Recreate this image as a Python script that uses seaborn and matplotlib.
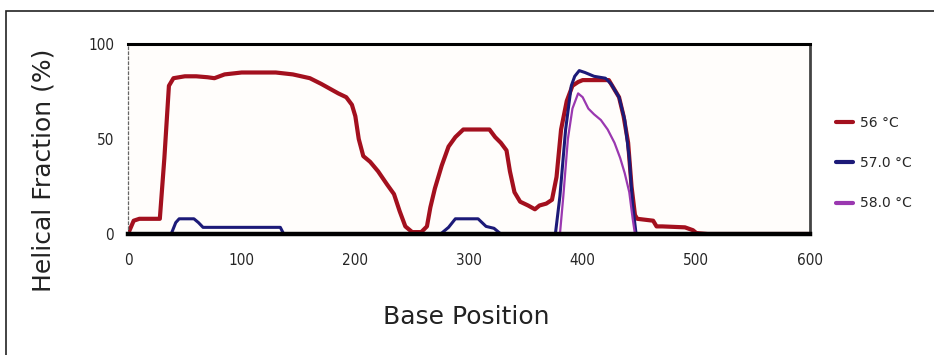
import numpy as np
import pandas as pd
import matplotlib
matplotlib.use("Agg")
import matplotlib.pyplot as plt
import seaborn as sns
from matplotlib.patches import Rectangle

# ---- data ----
red_x = [0, 5, 10, 28, 32, 36, 40, 50, 60, 70, 76, 85, 100, 130, 145, 160, 170, 176, 185, 192,
         197, 200, 203, 207, 213, 220, 228, 234, 239, 244, 250, 258, 263, 266, 270, 276, 282, 288,
         295, 318, 323, 328, 333, 336, 340, 345, 352, 358, 362, 368, 373, 377, 381, 386, 391, 396,
         400, 423, 427, 432, 436, 440, 443, 446, 448, 462, 465, 470, 490, 497, 500, 510, 600]
red_y = [0, 7, 8, 8, 40, 78, 82, 83, 83, 82.5, 82, 84, 85, 85, 84, 82, 79, 77, 74, 72,
         68, 62, 50, 41, 38, 33, 26, 21, 12, 4, 1, 1, 4, 14, 24, 36, 46, 51,
         55, 55, 51, 48, 44, 33, 22, 17, 15, 13, 15, 16, 18, 30, 55, 70, 78, 80,
         81, 81, 77, 72, 62, 48, 25, 10, 8, 7, 4, 4, 3.5, 2, 0.5, 0, 0]

blue_x = [0, 38, 42, 45, 58, 62, 66, 134, 137, 275, 282, 288, 308, 315, 322, 328, 376, 380, 385,
          390, 393, 397, 402, 410, 420, 425, 432, 437, 441, 444, 447, 600]
blue_y = [0, 0, 6, 8, 8, 6, 3.5, 3.5, 0, 0, 3.5, 8, 8, 4, 3, 0, 0, 20, 55,
          78, 83, 86, 85, 83, 82, 79, 72, 60, 40, 15, 0, 0]

purple_x = [0, 380, 383, 387, 391, 396, 400, 405, 410, 416, 422, 428, 433, 437, 441, 444, 446, 600]
purple_y = [0, 0, 20, 50, 66, 74, 72, 66, 63, 60, 55, 48, 40, 32, 22, 8, 0, 0]

series_names = ["56 °C", "57.0 °C", "58.0 °C"]
x_ticks = [0, 100, 200, 300, 400, 500, 600]
y_ticks = [0, 50, 100]

frames = []
for name, xs, ys in zip(series_names, [red_x, blue_x, purple_x], [red_y, blue_y, purple_y]):
    frames.append(pd.DataFrame({"Base Position": xs, "Helical Fraction": ys, "Temp": name}))
df = pd.concat(frames, ignore_index=True)

sns.set_style("white")
plt.rcParams['font.family'] = ['DejaVu Sans']

fig = plt.figure(figsize=(9.34, 3.55), dpi=100)
fig.patch.set_facecolor("white")
# outer frame (left and top visible)
fig.patches.append(Rectangle((6 / 934, -0.05), 1.2, 1 - 11 / 355 + 0.05, transform=fig.transFigure,
                             fill=False, edgecolor="#222222", linewidth=1.2))

ax = fig.add_axes([128 / 934, 1 - 234 / 355, (810 - 128) / 934, (234 - 44) / 355])
ax.set_facecolor("#fffdfb")

palette = {"56 °C": "#a3101e", "57.0 °C": "#1c1a78", "58.0 °C": "#9a38b0"}
widths = {"56 °C": 3.0, "57.0 °C": 2.2, "58.0 °C": 1.6}
for name in series_names:
    sub = df[df["Temp"] == name]
    sns.lineplot(data=sub, x="Base Position", y="Helical Fraction", ax=ax, color=palette[name],
                 linewidth=widths[name], label=name, estimator=None, sort=False)

ax.set_xlim(0, 600)
ax.set_ylim(0, 100)
ax.set_xticks(x_ticks)
ax.set_yticks(y_ticks)
ax.tick_params(axis="both", which="both", direction="inout", length=8, width=1.5, color="black",
               labelsize=11, pad=10)
ax.tick_params(axis="y", length=4, width=1, pad=8)
for lab in ax.get_xticklabels() + ax.get_yticklabels():
    lab.set_fontstretch("condensed")

ax.spines["bottom"].set_linewidth(3.2)
ax.spines["bottom"].set_color("black")
ax.spines["top"].set_linewidth(2.2)
ax.spines["top"].set_color("black")
ax.spines["right"].set_linewidth(2.0)
ax.spines["right"].set_color("#444444")
ax.spines["left"].set_linewidth(0.9)
ax.spines["left"].set_color("#666666")
ax.spines["left"].set_linestyle((0, (2, 2)))

ax.set_xlabel("Base Position", fontsize=18, color="#222222")
ax.xaxis.set_label_coords((466 - 128) / 682, (234 - 305) / 190)
ax.set_ylabel("Helical Fraction (%)", fontsize=18, color="#222222")
ax.yaxis.set_label_coords((56 - 128) / 682, (234 - 170) / 190)

leg = ax.legend(loc="center left", bbox_to_anchor=(1.02, (234 - 163) / 190), frameon=False,
                fontsize=10, handlelength=1.2, handletextpad=0.5, labelspacing=1.9)
for line in leg.get_lines():
    line.set_linewidth(3)

fig.savefig("out.png", dpi=100)
